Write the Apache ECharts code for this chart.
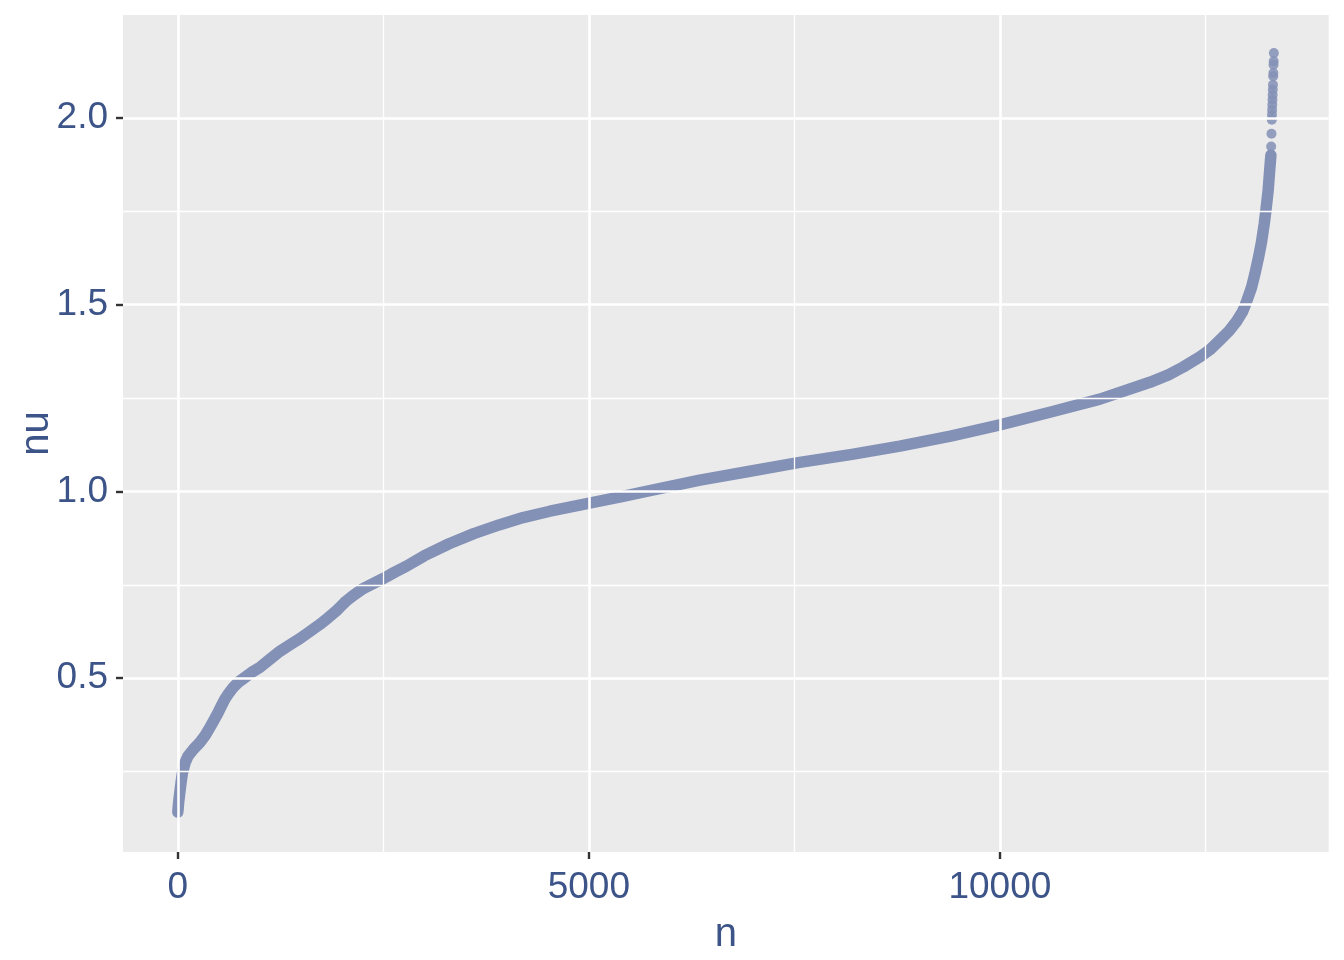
<!DOCTYPE html>
<html>
<head>
<meta charset="utf-8">
<script src="https://cdn.jsdelivr.net/npm/echarts@6/dist/echarts.min.js"></script>
<style>
  html, body { margin: 0; padding: 0; background: #ffffff; }
  #chart { width: 1344px; height: 960px; }
</style>
</head>
<body>
<div id="chart"></div>
<script>
// ---- data ----
// dense sorted curve (n, nu)
const curveN  = [0, 10, 24, 40, 57, 90, 125, 190, 268, 330, 389, 440, 490, 530, 572, 620, 673, 740, 815, 900, 998, 1120, 1241, 1360, 1484, 1600, 1727, 1830, 1931, 1990, 2040, 2130, 2255, 2380, 2500, 2640, 2782, 3000, 3300, 3600, 3917, 4200, 4526, 4992, 5400, 5742, 6350, 6959, 7547, 8200, 8783, 9400, 10000, 10608, 11217, 11825, 12050, 12230, 12433, 12560, 12676, 12790, 12879, 12950, 13001, 13060, 13102, 13150, 13183, 13215, 13236, 13264, 13285, 13297];
const curveNu = [0.142, 0.168, 0.194, 0.222, 0.248, 0.275, 0.292, 0.310, 0.328, 0.346, 0.368, 0.388, 0.408, 0.426, 0.444, 0.460, 0.475, 0.490, 0.502, 0.516, 0.529, 0.551, 0.572, 0.589, 0.606, 0.624, 0.644, 0.662, 0.681, 0.694, 0.705, 0.721, 0.740, 0.754, 0.767, 0.784, 0.800, 0.828, 0.860, 0.887, 0.911, 0.930, 0.947, 0.968, 0.986, 1.002, 1.030, 1.054, 1.077, 1.099, 1.121, 1.148, 1.178, 1.212, 1.247, 1.292, 1.312, 1.333, 1.360, 1.380, 1.405, 1.430, 1.455, 1.480, 1.508, 1.545, 1.582, 1.630, 1.668, 1.715, 1.752, 1.807, 1.868, 1.900];
// separate top points
const topN  = [13300, 13304, 13308, 13310, 13312, 13314, 13316, 13318, 13320, 13322, 13325, 13327, 13329, 13331, 13333];
const topNu = [1.923, 1.957, 1.995, 2.008, 2.021, 2.035, 2.048, 2.061, 2.075, 2.088, 2.111, 2.120, 2.142, 2.151, 2.173];
// ticks and grid
const xMajor = [0, 5000, 10000];
const xMinor = [2500, 7500, 12500];
const yMajor = [0.5, 1.0, 1.5, 2.0];
const yMinor = [0.25, 0.75, 1.25, 1.75];
const xLimits = [-667, 14000];
const yLimits = [0.035, 2.275];

// ---- styling ----
const textColor = '#3C5488';
const pointColor = '#8491B6';
const fontFam = '"Liberation Sans", Arial, Helvetica, sans-serif';

const curveData = curveN.map((n, i) => [n, curveNu[i]]);
const topData = topN.map((n, i) => [n, topNu[i]]);

const majorStyle = { color: '#ffffff', width: 2.6, type: 'solid' };
const minorStyle = { color: '#ffffff', width: 1.3, type: 'solid' };
const gridLines = []
  .concat(xMinor.map(v => ({ xAxis: v, lineStyle: minorStyle })))
  .concat(yMinor.map(v => ({ yAxis: v, lineStyle: minorStyle })))
  .concat(xMajor.map(v => ({ xAxis: v, lineStyle: majorStyle })))
  .concat(yMajor.map(v => ({ yAxis: v, lineStyle: majorStyle })));

const chart = echarts.init(document.getElementById('chart'), null, { renderer: 'canvas' });
chart.setOption({
  animation: false,
  backgroundColor: '#ffffff',
  textStyle: { fontFamily: fontFam },
  grid: {
    left: 123, top: 15, right: 1344 - 1328.7, bottom: 960 - 853,
    show: true, backgroundColor: '#EBEBEB', borderWidth: 0,
    containLabel: false
  },
  xAxis: {
    type: 'value',
    min: xLimits[0], max: xLimits[1],
    name: 'n', nameLocation: 'middle', nameGap: 63, nameMoveOverlap: false,
    nameTextStyle: { color: textColor, fontSize: 40, fontFamily: fontFam },
    axisLine: { show: false, onZero: false },
    axisTick: { show: true, customValues: xMajor, length: 7, lineStyle: { color: '#333333', width: 2.4 } },
    axisLabel: { customValues: xMajor, color: textColor, fontSize: 37, margin: 17, fontFamily: fontFam,
      formatter: v => String(Math.round(v)) },
    splitLine: { show: false }
  },
  yAxis: {
    type: 'value',
    min: yLimits[0], max: yLimits[1],
    name: 'nu', nameLocation: 'middle', nameGap: 66, nameRotate: 90, nameMoveOverlap: false,
    nameTextStyle: { color: textColor, fontSize: 40, fontFamily: fontFam },
    axisLine: { show: false, onZero: false },
    axisTick: { show: true, customValues: yMajor, length: 7, lineStyle: { color: '#333333', width: 2.4 } },
    axisLabel: { customValues: yMajor, color: textColor, fontSize: 37, margin: 15, fontFamily: fontFam,
      formatter: v => Number(v).toFixed(1) },
    splitLine: { show: false }
  },
  series: [
    {
      type: 'line', data: [], z: 1, silent: true,
      markLine: {
        silent: true, symbol: ['none', 'none'], animation: false,
        label: { show: false }, emphasis: { disabled: true },
        data: gridLines
      }
    },
    {
      type: 'line', data: curveData, z: 3, silent: true,
      showSymbol: false, smooth: false,
      lineStyle: { color: pointColor, width: 11.5, cap: 'round', join: 'round' }
    },
    {
      type: 'scatter', data: topData, z: 4, silent: true,
      symbol: 'circle', symbolSize: 10,
      itemStyle: { color: pointColor, opacity: 0.85 }
    }
  ]
});
</script>
</body>
</html>
